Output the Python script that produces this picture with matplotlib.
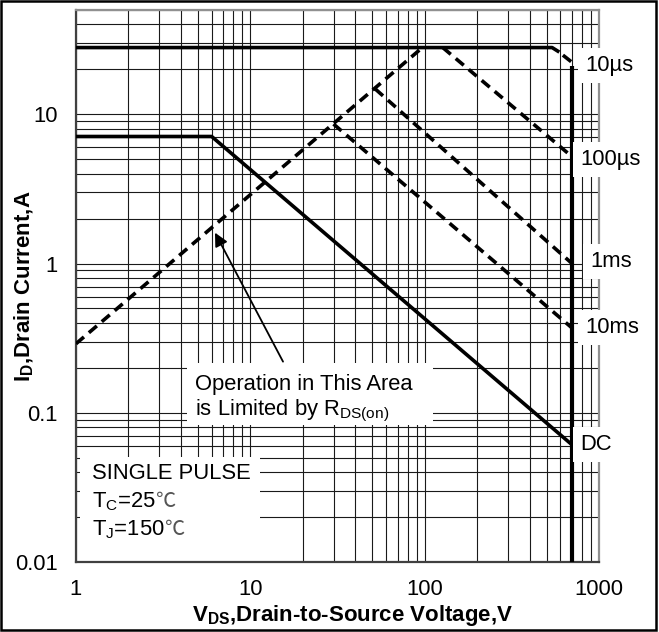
import matplotlib
matplotlib.use("Agg")
import matplotlib.pyplot as plt
from matplotlib.patches import Rectangle

plt.rcParams["font.family"] = ["Liberation Sans", "DejaVu Sans"]
plt.rcParams["mathtext.fontset"] = "custom"
plt.rcParams["mathtext.rm"] = "Liberation Sans"
plt.rcParams["mathtext.it"] = "Liberation Sans:italic"
plt.rcParams["mathtext.bf"] = "Liberation Sans:bold"

# safe operating area boundaries (V, A)
rds_v, rds_i = [1, 97], [0.29, 28]
us10_v, us10_i = [1, 538, 580], [28, 28, 26.5]
us10_tail_v, us10_tail_i = [580, 700], [26.5, 22.3]
us100_v, us100_i = [127, 700], [28, 5.2]
ms1_v, ms1_i = [52, 700], [14.8, 1.0]
ms10_v, ms10_i = [30, 700], [8.6, 0.37]
dc_v, dc_i = [1, 6, 700], [7.1, 7.1, 0.061]
bv_v, bv_i = [700, 700], [21, 0.01]

# curve-end labels: (text, V, I)
end_labels = [("10µs", 832, 21.3), ("100µs", 779, 5.0), ("1ms", 889, 1.03),
              ("10ms", 832, 0.372), ("DC", 779, 0.0615)]

x_ticks = [1, 10, 100, 1000]
x_ticklabels = ["1", "10", "100", "1000"]
y_ticks = [0.01, 0.1, 1, 10]
y_ticklabels = ["0.01", "0.1", "1", "10"]

FS = 15.8

fig = plt.figure(figsize=(6.59, 6.32), dpi=100)
ax = fig.add_axes([0.1153, 0.1108, 0.7937, 0.8734])
ax.set_xscale("log")
ax.set_yscale("log")
ax.set_xlim(1, 1000)
ax.set_ylim(0.01, 50)

ax.set_axisbelow(True)
ax.grid(True, which="both", color="#1a1a1a", lw=0.8)
ax.set_xticks(x_ticks, x_ticklabels)
ax.set_yticks(y_ticks, y_ticklabels)
ax.tick_params(which="both", length=0)
ax.tick_params(axis="x", pad=12, labelsize=FS)
ax.tick_params(axis="y", pad=13, labelsize=FS)
for s in ["left", "bottom"]:
    ax.spines[s].set_color("#404040")
    ax.spines[s].set_linewidth(1.6)
for s in ["top", "right"]:
    ax.spines[s].set_color("#909090")
    ax.spines[s].set_linewidth(1.6)

LW = 2.6
dash = (0, (2.9, 1.8))
ax.plot(rds_v, rds_i, color="black", lw=LW, ls=dash, zorder=4)
ax.plot(us10_v, us10_i, color="black", lw=LW, zorder=4)
ax.plot(us10_tail_v, us10_tail_i, color="black", lw=LW, ls=(2.9, (2.9, 1.8)), zorder=4)
ax.plot(us100_v, us100_i, color="black", lw=LW, ls=dash, zorder=4)
ax.plot(ms1_v, ms1_i, color="black", lw=LW, ls=dash, zorder=4)
ax.plot(ms10_v, ms10_i, color="black", lw=LW, ls=dash, zorder=4)
ax.plot(dc_v, dc_i, color="black", lw=LW, zorder=4)
ax.plot(bv_v, bv_i, color="black", lw=3, zorder=4, solid_capstyle="butt")

for txt, v, i in end_labels:
    ax.text(v, i, txt, fontsize=FS, ha="left", va="center", zorder=5, clip_on=False,
            bbox=dict(facecolor="white", edgecolor="none", pad=5))

# white boxes behind the notes hide the grid
ax.add_patch(Rectangle((0.212, 0.248), 0.471, 0.1125, transform=ax.transAxes,
                       facecolor="white", edgecolor="none", zorder=1))
ax.add_patch(Rectangle((0.0076, 0.0), 0.3447, 0.190, transform=ax.transAxes,
                       facecolor="white", edgecolor="none", zorder=1))

ax.text(0.2275, 0.3116, "Operation in This Area", transform=ax.transAxes,
        fontsize=FS, va="baseline", zorder=5)
ax.text(0.2275, 0.2663, r"is Limited by R$_{\mathrm{DS(on)}}$", transform=ax.transAxes,
        fontsize=FS, va="baseline", zorder=5)
ax.annotate("", xy=(6.27, 1.61), xytext=(15.4, 0.22),
            arrowprops=dict(arrowstyle="-|>", color="black", lw=1.3,
                            mutation_scale=20, shrinkA=0, shrinkB=0), zorder=5)

ax.text(0.0306, 0.1504, "SINGLE PULSE", transform=ax.transAxes,
        fontsize=FS, va="baseline", zorder=5)
t_c = ax.text(0.0306, 0.0996, r"T$_{\mathrm{C}}$=25", transform=ax.transAxes,
              fontsize=FS, va="baseline", zorder=5)
t_j = ax.text(0.0306, 0.0489, r"T$_{\mathrm{J}}$=150", transform=ax.transAxes,
              fontsize=FS, va="baseline", zorder=5)

ax.set_xlabel(r"V$_{\mathbf{DS}}$,Drain-to-Source Voltage,V", fontsize=16, fontweight="bold")
ax.set_ylabel(r"I$_{\mathbf{D}}$,Drain Current,A", fontsize=16, fontweight="bold")
ax.xaxis.set_label_coords(0.528, -0.074)
ax.yaxis.set_label_coords(-0.076, 0.5)

fig.add_artist(Rectangle((0.0015, 0.0032), 0.9939, 0.9948, transform=fig.transFigure,
                         fill=False, edgecolor="black", lw=1.8))

# degree-Celsius sign in a CJK font, placed right after each temperature
fig.canvas.draw()
for t in [t_c, t_j]:
    bb = t.get_window_extent()
    x_ax = ax.transAxes.inverted().transform((bb.x1, bb.y0))[0]
    ax.text(x_ax - 0.002, t.get_position()[1], "℃", transform=ax.transAxes,
            fontsize=14.5, va="baseline", color="#555555", zorder=5,
            family=["Noto Sans CJK SC", "DejaVu Sans"])

fig.savefig("out.png", dpi=100)
